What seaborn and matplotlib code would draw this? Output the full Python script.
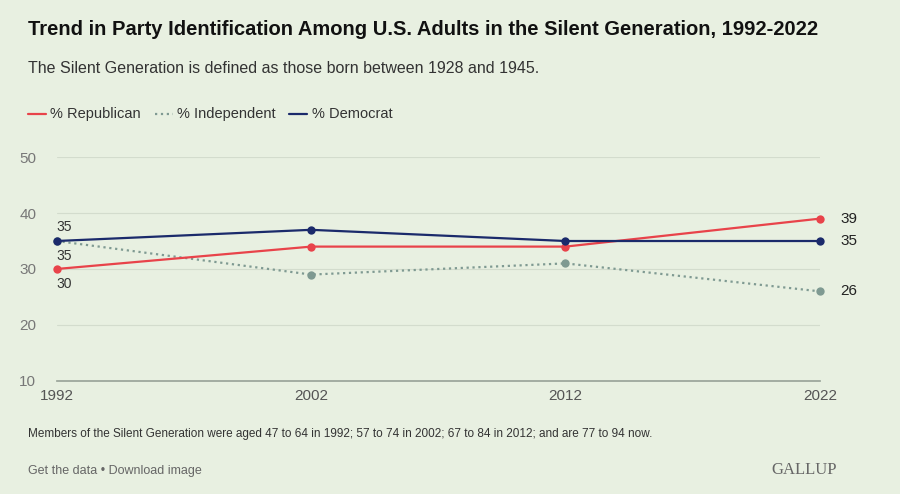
import matplotlib
matplotlib.use("Agg")
import matplotlib.pyplot as plt
import pandas as pd
import seaborn as sns

years = [1992, 2002, 2012, 2022]
republican = [30, 34, 34, 39]
independent = [35, 29, 31, 26]
democrat = [35, 37, 35, 35]

bg = "#e8f0e1"
colors = {"% Republican": "#e8434a", "% Independent": "#7f9a92", "% Democrat": "#1b2a6b"}

df = pd.DataFrame({"year": years, "% Republican": republican,
                   "% Independent": independent, "% Democrat": democrat})
long = df.melt("year", var_name="party", value_name="pct")

sns.set_theme(style="white")
plt.rcParams["font.family"] = ["Liberation Sans", "DejaVu Sans"]

fig = plt.figure(figsize=(9, 4.94), dpi=100, facecolor=bg)
ax = fig.add_axes([0.063, 0.229, 0.848, 0.453], facecolor=bg)

for party, style in [("% Independent", ":"), ("% Republican", "-"), ("% Democrat", "-")]:
    sub = long[long.party == party]
    sns.lineplot(data=sub, x="year", y="pct", ax=ax, color=colors[party],
                 linestyle=style, linewidth=1.6, marker="o", markersize=6,
                 markeredgewidth=0, legend=False, clip_on=False)

ax.set_xlim(1992, 2022)
ax.set_ylim(10, 50)
ax.set_yticks([10, 20, 30, 40, 50])
ax.set_xticks(years)
ax.grid(axis="y", color="#d3dccd", linewidth=0.8)
ax.set_xlabel("")
ax.set_ylabel("")
for s in ["top", "right", "left"]:
    ax.spines[s].set_visible(False)
ax.spines["bottom"].set_color("#9aa59a")
ax.tick_params(axis="y", length=0, labelsize=11, labelcolor="#777777", pad=27)
ax.tick_params(axis="x", length=0, labelsize=11, labelcolor="#555555", pad=6)
for lab in ax.get_yticklabels():
    lab.set_horizontalalignment("left")

# value labels
ax.text(1992.3, 36.2, str(democrat[0]), fontsize=10, color="#333333", ha="center", va="bottom")
ax.text(1992.3, 33.6, str(independent[0]), fontsize=10, color="#333333", ha="center", va="top")
ax.text(1992.3, 28.6, str(republican[0]), fontsize=10, color="#333333", ha="center", va="top")
ax.text(2022.8, republican[-1], str(republican[-1]), fontsize=11, color="#222222", va="center")
ax.text(2022.8, democrat[-1], str(democrat[-1]), fontsize=11, color="#222222", va="center")
ax.text(2022.8, independent[-1], str(independent[-1]), fontsize=11, color="#222222", va="center")

fig.text(0.031, 0.93, "Trend in Party Identification Among U.S. Adults in the Silent Generation, 1992-2022",
         fontsize=14.5, fontweight="bold", color="#111111")
fig.text(0.031, 0.852, "The Silent Generation is defined as those born between 1928 and 1945.",
         fontsize=11.5, color="#333333")

# legend
lx, ly = 0.031, 0.77
for name, style in [("% Republican", "-"), ("% Independent", ":"), ("% Democrat", "-")]:
    fig.add_artist(plt.Line2D([lx, lx + 0.02], [ly, ly], color=colors[name],
                              linestyle=style, linewidth=1.6, transform=fig.transFigure))
    t = fig.text(lx + 0.025, ly, name, fontsize=10.5, color="#333333", va="center")
    fig.canvas.draw()
    bb = t.get_window_extent().transformed(fig.transFigure.inverted())
    lx = bb.x1 + 0.015

fig.text(0.031, 0.115, "Members of the Silent Generation were aged 47 to 64 in 1992; 57 to 74 in 2002; 67 to 84 in 2012; and are 77 to 94 now.",
         fontsize=8.5, color="#333333")
fig.text(0.031, 0.04, "Get the data \u2022 Download image", fontsize=9, color="#666666")
fig.text(0.93, 0.04, "GALLUP", fontsize=12, color="#666666", family="Liberation Serif", ha="right")

fig.savefig("out.png", dpi=100, facecolor=bg)
